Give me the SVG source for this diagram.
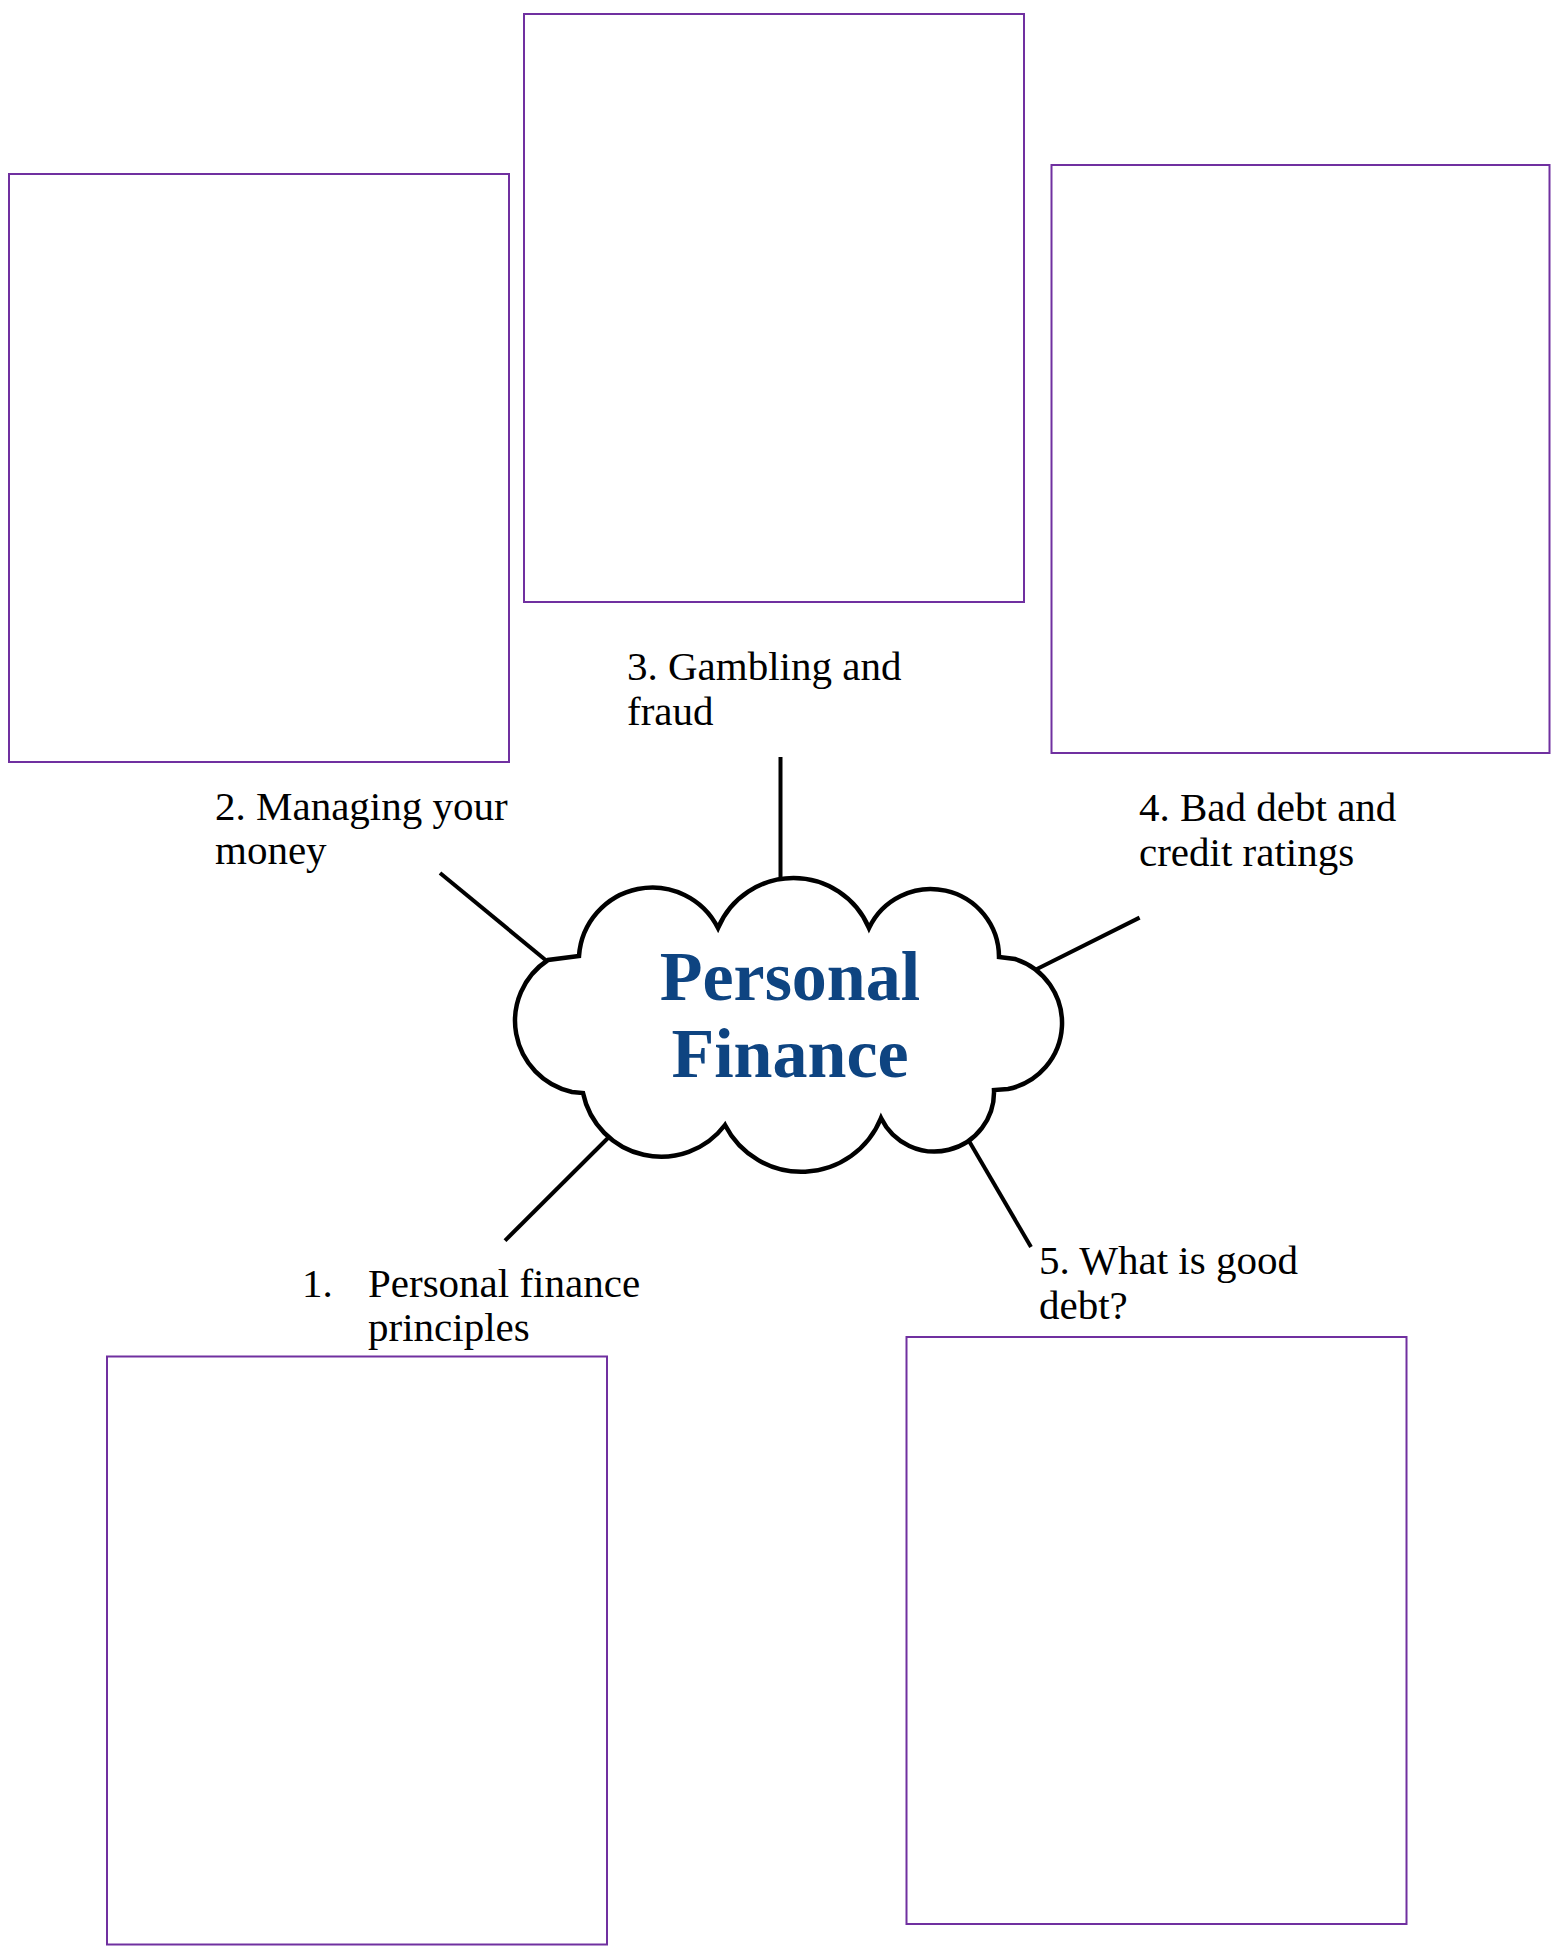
<svg xmlns="http://www.w3.org/2000/svg" width="1551" height="1955" viewBox="0 0 1551 1955">
  <style>
    .box { fill: none; stroke: #7030A0; stroke-width: 2; }
    .conn { stroke: #000; stroke-width: 4; fill: none; }
    .cloud { fill: #fff; stroke: #000; stroke-width: 4.5; stroke-linejoin: miter; }
    .lbl { font-family: "Liberation Serif", "DejaVu Serif", serif; font-size: 41px; fill: #000; }
    .title { font-family: "Liberation Serif", "DejaVu Serif", serif; font-size: 70px; font-weight: bold; fill: #0E4481; text-anchor: middle; }
  </style>
  <rect x="0" y="0" width="1551" height="1955" fill="#fff"/>

  <g id="connectors">
    <line class="conn" x1="440" y1="873" x2="548" y2="962"/>
    <line class="conn" x1="780.5" y1="757" x2="780.5" y2="880"/>
    <line class="conn" x1="1139.6" y1="917.6" x2="1036" y2="969.5"/>
    <line class="conn" x1="505" y1="1240.6" x2="611" y2="1135"/>
    <line class="conn" x1="969" y1="1141" x2="1031" y2="1247"/>
  </g>

  <g id="center">
    <path class="cloud" d="M 579 956 A 73.5 73.5 0 0 1 718 928 A 82 82 0 0 1 869 928 A 68.3 68.3 0 0 1 999 957 L 1015 959 A 67.2 67.2 0 0 1 1008 1089 L 994 1090 A 59.5 59.5 0 0 1 881 1118 A 85.8 85.8 0 0 1 725 1125 A 79.9 79.9 0 0 1 583 1093 L 572 1092 A 72.8 72.8 0 0 1 548 960 Z"/>
    <text class="title" x="790" y="1000">Personal</text>
    <text class="title" x="790" y="1077">Finance</text>
  </g>

  <g id="node2">
    <rect class="box" x="9" y="174" width="500" height="588"/>
    <text class="lbl" x="215" y="820">2. Managing your</text>
    <text class="lbl" x="215" y="864">money</text>
  </g>

  <g id="node3">
    <rect class="box" x="524" y="14" width="500" height="588"/>
    <text class="lbl" x="627" y="680">3. Gambling and</text>
    <text class="lbl" x="627" y="725">fraud</text>
  </g>

  <g id="node4">
    <rect class="box" x="1051.5" y="165" width="498" height="588"/>
    <text class="lbl" x="1139" y="821">4. Bad debt and</text>
    <text class="lbl" x="1139" y="866">credit ratings</text>
  </g>

  <g id="node1">
    <rect class="box" x="107" y="1356.5" width="500" height="588"/>
    <text class="lbl" x="302" y="1297">1.</text>
    <text class="lbl" x="368" y="1297">Personal finance</text>
    <text class="lbl" x="368" y="1341">principles</text>
  </g>

  <g id="node5">
    <rect class="box" x="906.5" y="1337" width="500" height="587"/>
    <text class="lbl" x="1039" y="1274">5. What is good</text>
    <text class="lbl" x="1039" y="1319">debt?</text>
  </g>
</svg>
